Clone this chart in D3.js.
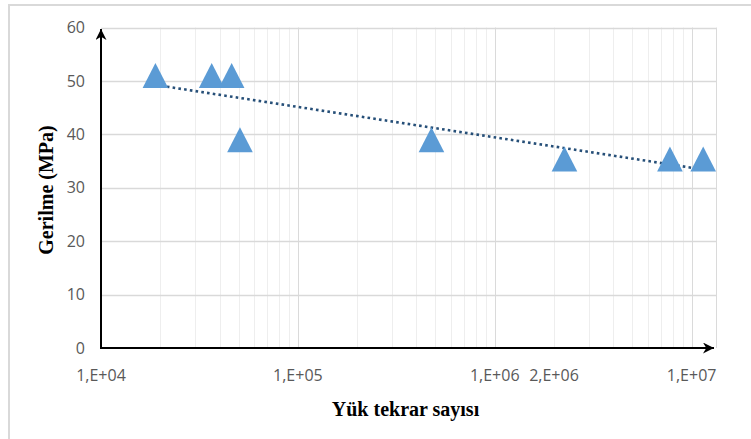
<!DOCTYPE html>
<html>
<head>
<meta charset="utf-8">
<script src="https://cdn.jsdelivr.net/npm/d3@7"></script>
<style>
  body { margin: 0; background: #fff; }
  svg { display: block; }
</style>
</head>
<body>
<div id="vis"></div>
<script>
// load cycles (N) and stress (MPa)
var cycles = [18900, 36500, 46100, 50800, 477000, 2260000, 7760000, 11450000];
var stress = [51, 51, 51, 39, 39, 35.4, 35.4, 35.4];

var yTicks = [0, 10, 20, 30, 40, 50, 60];
var xTicks = [1e4, 1e5, 1e6, 2e6, 1e7];
var xTickLabels = ["1,E+04", "1,E+05", "1,E+06", "2,E+06", "1,E+07"];

var yTitle = "Gerilme (MPa)";
var xTitle = "Yük tekrar sayısı";

(function(){
  var W = 751, H = 439,
    pLeft = 101, pRight = 716, pTop = 27.5, pBottom = 348;

  var x = d3.scaleLog().domain([1e4, 1.33e7]).range([pLeft, pRight]);
  var y = d3.scaleLinear().domain([0, 60]).range([pBottom, pTop]);

  var svg = d3.select("#vis")
    .append("svg")
    .attr("width", W)
    .attr("height", H);

  // outer chart frame (cut off at right and bottom in the picture)
  svg.append("rect")
    .attr("x", 9).attr("y", 5)
    .attr("width", 900).attr("height", 600)
    .attr("fill", "none")
    .attr("stroke", "#d9d9d9")
    .attr("stroke-width", 2);

  // minor vertical grid lines
  var minor = [];
  for (var e = 4; e <= 7; e++) {
    for (var m = 2; m <= 9; m++) {
      var v = m * Math.pow(10, e);
      if (v < x.domain()[1]) minor.push(v);
    }
  }
  svg.append("g").selectAll("line")
    .data(minor)
    .enter().append("line")
    .attr("x1", function(d){ return Math.round(x(d)) + 0.5; })
    .attr("x2", function(d){ return Math.round(x(d)) + 0.5; })
    .attr("y1", pTop).attr("y2", pBottom)
    .attr("stroke", "#eeeeee");

  // decade lines + right edge of plot area
  svg.append("g").selectAll("line")
    .data([1e5, 1e6, 1e7, x.domain()[1]])
    .enter().append("line")
    .attr("x1", function(d){ return Math.round(x(d)) + 0.5; })
    .attr("x2", function(d){ return Math.round(x(d)) + 0.5; })
    .attr("y1", pTop).attr("y2", pBottom)
    .attr("stroke", "#dadada");

  // horizontal grid
  svg.append("g").selectAll("line")
    .data(yTicks.slice(1))
    .enter().append("line")
    .attr("x1", pLeft).attr("x2", pRight)
    .attr("y1", function(d){ return Math.round(y(d)) + 0.5; })
    .attr("y2", function(d){ return Math.round(y(d)) + 0.5; })
    .attr("stroke", "#d9d9d9")
    .attr("stroke-width", 1.3);

  // y tick labels
  svg.append("g").selectAll("text")
    .data(yTicks)
    .enter().append("text")
    .attr("x", 85)
    .attr("y", function(d){ return y(d); })
    .attr("dy", "0.35em")
    .attr("text-anchor", "end")
    .attr("fill", "#595959")
    .style("font", "16px 'Open Sans', sans-serif")
    .text(function(d){ return d; });

  // x tick labels
  svg.append("g").selectAll("text")
    .data(xTicks)
    .enter().append("text")
    .attr("x", function(d){ return x(d); })
    .attr("y", 381)
    .attr("text-anchor", "middle")
    .attr("fill", "#595959")
    .style("font", "16px 'Open Sans', sans-serif")
    .text(function(d, i){ return xTickLabels[i]; });

  // axes with arrow heads
  svg.append("defs").append("marker")
    .attr("id", "arrow")
    .attr("viewBox", "0 0 10 10")
    .attr("refX", 10).attr("refY", 5)
    .attr("markerWidth", 5.5).attr("markerHeight", 5.5)
    .attr("orient", "auto")
    .append("path")
    .attr("d", "M0,0 L10,5 L0,10 L3,5 Z")
    .attr("fill", "#000");

  svg.append("line")
    .attr("x1", pLeft).attr("y1", pBottom)
    .attr("x2", 714).attr("y2", pBottom)
    .attr("stroke", "#000").attr("stroke-width", 2)
    .attr("marker-end", "url(#arrow)");

  svg.append("line")
    .attr("x1", pLeft).attr("y1", pBottom + 1)
    .attr("x2", pLeft).attr("y2", 29)
    .attr("stroke", "#000").attr("stroke-width", 2)
    .attr("marker-end", "url(#arrow)");

  // logarithmic trend line (least squares on log10 N)
  var lx = cycles.map(function(d){ return Math.log10(d); });
  var mx = d3.mean(lx), my = d3.mean(stress);
  var sxy = d3.sum(lx, function(d, i){ return (d - mx) * (stress[i] - my); });
  var sxx = d3.sum(lx, function(d){ return (d - mx) * (d - mx); });
  var slope = sxy / sxx, icpt = my - slope * mx;

  svg.append("path")
    .datum(d3.extent(cycles))
    .attr("d", d3.line()
      .x(function(d){ return x(d); })
      .y(function(d){ return y(icpt + slope * Math.log10(d)); }))
    .attr("fill", "none")
    .attr("stroke", "#264f78")
    .attr("stroke-width", 2.6)
    .attr("stroke-dasharray", "2.6,3.2");

  // triangle markers
  svg.append("g").selectAll("path")
    .data(cycles)
    .enter().append("path")
    .attr("transform", function(d, i){ return "translate(" + x(d) + "," + y(stress[i]) + ")"; })
    .attr("d", "M0,-12.5 L12.8,12.5 L-12.8,12.5 Z")
    .attr("fill", "#5b9bd5");

  // axis titles
  svg.append("text")
    .attr("transform", "translate(53,190) rotate(-90)")
    .attr("text-anchor", "middle")
    .style("font", "bold 20px 'Liberation Serif', 'Times New Roman', serif")
    .attr("fill", "#000")
    .text(yTitle);

  svg.append("text")
    .attr("x", 405.5).attr("y", 416)
    .attr("text-anchor", "middle")
    .style("font", "bold 20px 'Liberation Serif', 'Times New Roman', serif")
    .attr("fill", "#000")
    .text(xTitle);
})();
</script>
</body>
</html>
